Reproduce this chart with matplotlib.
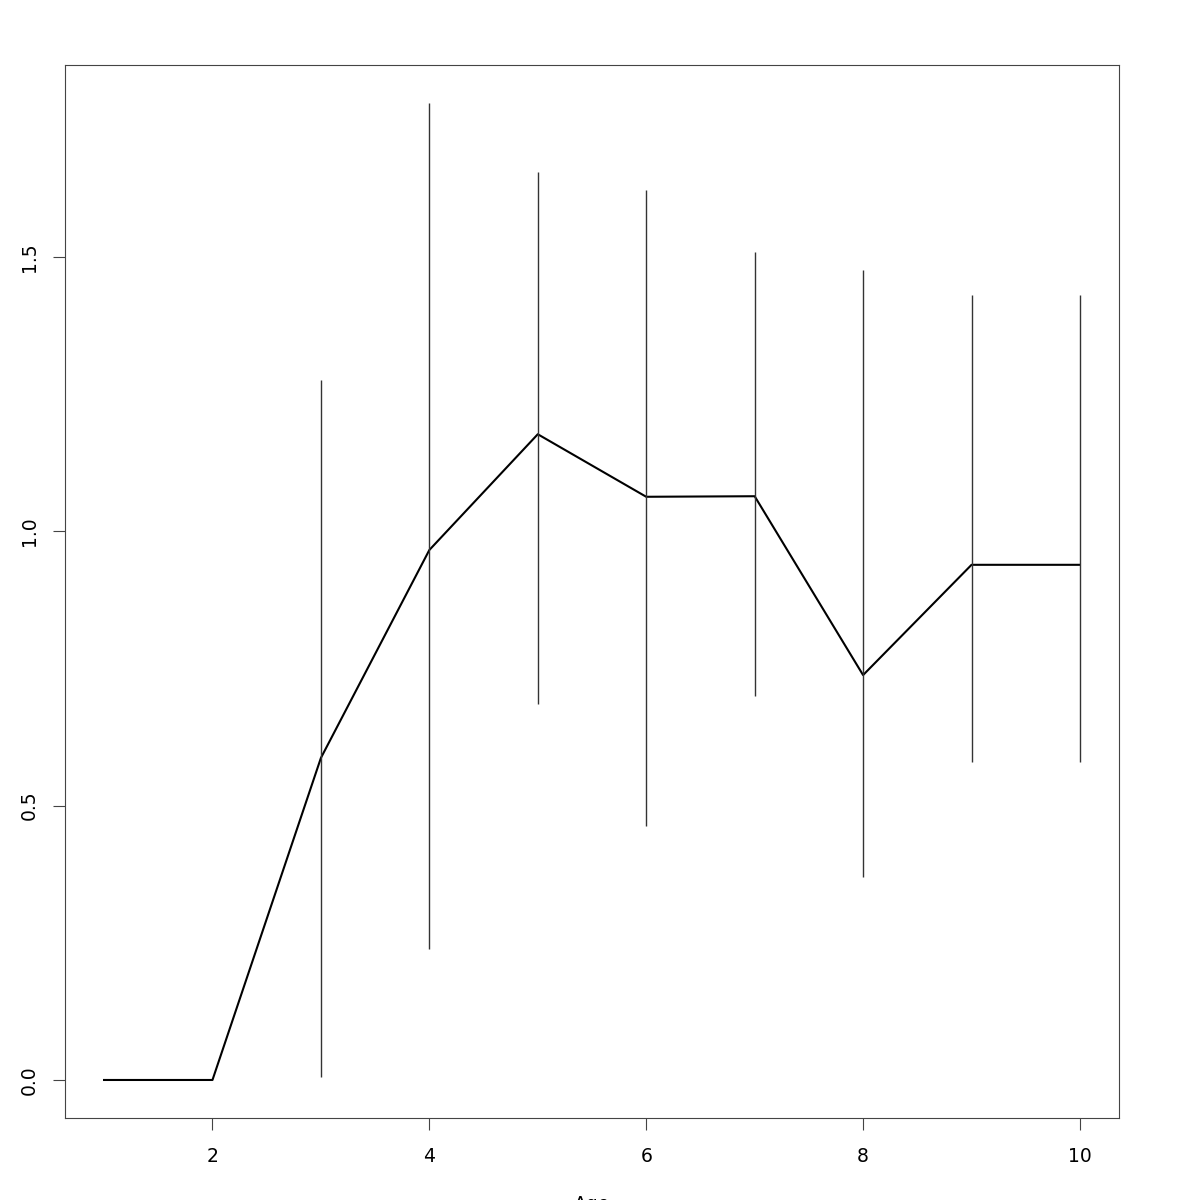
import matplotlib
matplotlib.use("Agg")
import matplotlib.pyplot as plt
import numpy as np

age = [1, 2, 3, 4, 5, 6, 7, 8, 9, 10]
mean = [0.0, 0.0, 0.587, 0.966, 1.177, 1.063, 1.064, 0.738, 0.939, 0.939]
bar_x = [3, 4, 5, 6, 7, 8, 9, 10]
bar_lo = [0.005, 0.239, 0.685, 0.463, 0.700, 0.370, 0.580, 0.580]
bar_hi = [1.276, 1.781, 1.655, 1.622, 1.509, 1.476, 1.431, 1.431]

fig = plt.figure(figsize=(12, 12), dpi=100)
ax = fig.add_axes([65 / 1200, 1 - 1118 / 1200, 1054 / 1200, 1053 / 1200])

ax.plot(age, mean, color='black', lw=1.5)
ax.vlines(bar_x, bar_lo, bar_hi, color='#333333', lw=1.0)

ax.set_xlim(0.64, 10.36)
ax.set_ylim(-0.0693, 1.850)
ax.set_xticks([2, 4, 6, 8, 10])
ax.set_yticks([0.0, 0.5, 1.0, 1.5])
ax.set_yticklabels(['0.0', '0.5', '1.0', '1.5'], rotation=90, va='center')
ax.tick_params(axis='both', direction='out', length=8.6, width=0.8,
               color='#444444', labelsize=13.5)
ax.tick_params(axis='x', pad=12)
ax.tick_params(axis='y', pad=10)
for s in ax.spines.values():
    s.set_color('#444444')
    s.set_linewidth(0.8)

ax.set_xlabel('Age', fontsize=13.5, labelpad=21)

fig.savefig('out.png', dpi=100)
